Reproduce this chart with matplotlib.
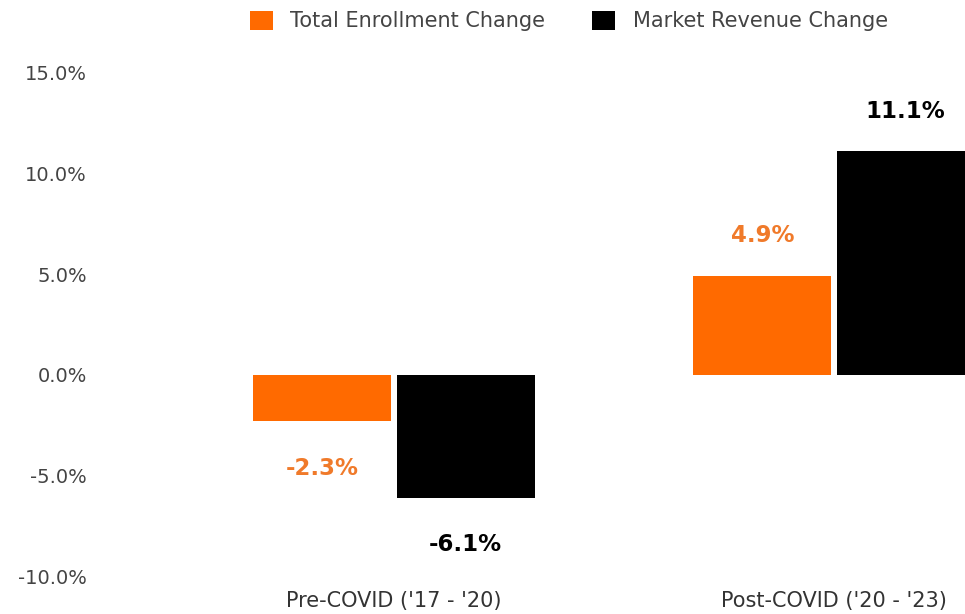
import matplotlib.pyplot as plt
import numpy as np

plt.rcParams['font.family'] = ['DejaVu Sans']

categories = ["Pre-COVID ('17 - '20)", "Post-COVID ('20 - '23)"]
enrollment = [-2.3, 4.9]
revenue = [-6.1, 11.1]
series_names = ["Total Enrollment Change", "Market Revenue Change"]
yticks = [-10, -5, 0, 5, 10, 15]

orange = '#ff6a00'
orange_txt = '#f07a2a'
black = '#000000'

fig = plt.figure(figsize=(9.65, 6.14), dpi=100)
# axes: left ~100px, right runs to the figure edge (last bar is clipped)
ax = fig.add_axes([100 / 965, 38 / 614, 865 / 965, 503 / 614])

x = np.arange(len(categories))
w = 0.314
off = 0.163
b1 = ax.bar(x - off, enrollment, w, color=orange, label=series_names[0])
b2 = ax.bar(x + off, revenue, w, color=black, label=series_names[1])

for bars, vals, col in [(b1, enrollment, orange_txt), (b2, revenue, black)]:
    for rect, v in zip(bars, vals):
        cx = rect.get_x() + rect.get_width() / 2
        dy = 29 if v > 0 else -34
        ax.annotate(f"{v:.1f}%", (cx, v), xytext=(0, dy), textcoords='offset points',
                    ha='center', va='center', fontsize=16.5, fontweight='bold', color=col)

ax.set_ylim(-10, 15)
ax.set_xlim(-0.668, 1.2977)
ax.set_yticks(yticks)
ax.set_yticklabels([f"{t:.1f}%" for t in yticks], fontsize=14, color='#444444')
ax.set_xticks(x)
ax.set_xticklabels(categories, fontsize=15, color='#333333')
ax.tick_params(axis='both', length=0)
ax.tick_params(axis='y', pad=9.5)
ax.tick_params(axis='x', pad=11)
for s in ax.spines.values():
    s.set_visible(False)

fig.legend(handles=[b1, b2], loc='center', bbox_to_anchor=(569 / 965, 1 - 21 / 614),
           ncol=2, frameon=False, fontsize=15, handlelength=1.1, handleheight=1.05,
           columnspacing=2.25, handletextpad=0.85, labelcolor='#444444')

fig.savefig('out.png', dpi=100)
